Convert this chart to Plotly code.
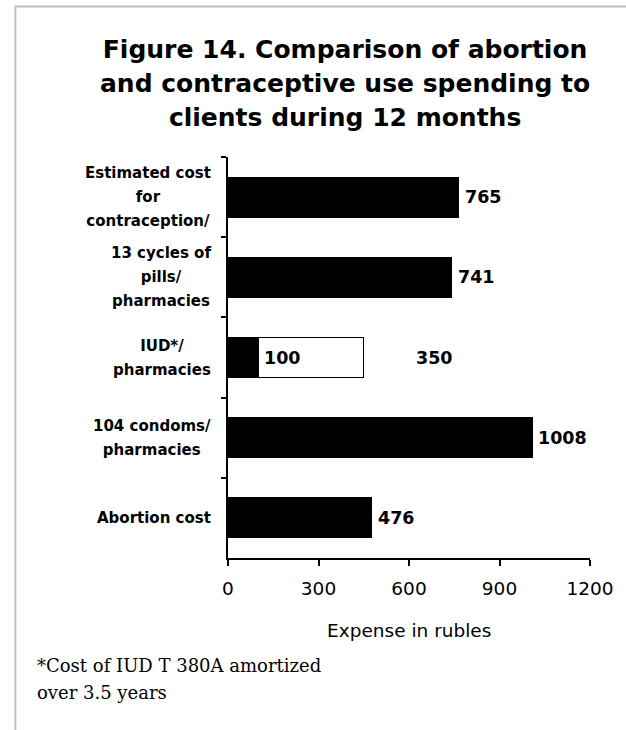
import plotly.graph_objects as go

# ---- data -------------------------------------------------------------
categories = [
    "Estimated cost<br>for<br>contraception/",
    "13 cycles of<br>pills/<br>pharmacies",
    "IUD*/<br>pharmacies",
    "104 condoms/<br>pharmacies",
    "Abortion cost",
]
annual_cost = [765, 741, 100, 1008, 476]          # black bars (rubles / 12 months)
iud_full_cost = [None, None, 350, None, None]     # white segment: full IUD price
x_ticks = [0, 300, 600, 900, 1200]

title_text = ("Figure 14. Comparison of abortion<br>"
              "and contraceptive use spending to<br>"
              "clients during 12 months")
x_title = "Expense in rubles"
footnote = "*Cost of IUD T 380A amortized<br>over 3.5 years"

# ---- geometry ---------------------------------------------------------
W, H = 626, 730
L, R, T, B = 228, 26, 157, 172
PW, PH = W - L - R, H - T - B

SANS = "DejaVu Sans"
SERIF = "DejaVu Serif"


def paper_x(px):
    return (px - L) / PW


def paper_y(py):
    return (H - B - py) / PH


def spaced(text, size, line_gap):
    """Wrap text in a span of `size` px; return (text, outer font size) so
    that consecutive lines sit `line_gap` px apart."""
    return f"<span style='font-size:{size}px'>{text}</span>", line_gap / 1.3


fig = go.Figure()

fig.add_trace(go.Bar(
    y=categories, x=annual_cost, orientation="h", width=0.5,
    marker=dict(color="black", line=dict(color="black", width=1)),
    hoverinfo="x+y",
))
fig.add_trace(go.Bar(
    y=categories, x=iud_full_cost, orientation="h", width=0.5,
    marker=dict(color="white", line=dict(color="black", width=1)),
    hoverinfo="x+y",
))

annotations = []

# value labels
VAL_FONT = dict(family=SANS, size=17.5, color="black", weight="bold")
for cat, val, extra in zip(categories, annual_cost, iud_full_cost):
    annotations.append(dict(
        x=val, y=cat, xref="x", yref="y", text=str(val),
        xanchor="left", yanchor="middle", xshift=4, showarrow=False,
        font=VAL_FONT,
    ))
    if extra is not None:
        annotations.append(dict(
            x=val + extra, y=cat, xref="x", yref="y", text=str(extra),
            xanchor="left", yanchor="middle", xshift=50, showarrow=False,
            font=VAL_FONT,
        ))

# category labels (centred multi-line blocks, right edge near the axis)
for cat in categories:
    txt, fs = spaced(cat, 15, 24)
    annotations.append(dict(
        x=paper_x(213), y=cat, xref="paper", yref="y", text=txt,
        xanchor="right", yanchor="middle", align="center", showarrow=False,
        font=dict(family=SANS, size=fs, color="black", weight="bold"),
    ))

# title
txt, fs = spaced(title_text, 25, 34)
annotations.append(dict(
    x=paper_x(348), y=paper_y(84), xref="paper", yref="paper", text=txt,
    xanchor="center", yanchor="middle", align="center", showarrow=False,
    font=dict(family=SANS, size=fs, color="black", weight="bold"),
))

# axis title
annotations.append(dict(
    x=0.5, y=paper_y(630), xref="paper", yref="paper", text=x_title,
    xanchor="center", yanchor="middle", showarrow=False,
    font=dict(family=SANS, size=18.5, color="black"),
))

# footnote
txt, fs = spaced(footnote, 18, 27)
annotations.append(dict(
    x=paper_x(30), y=paper_y(653), xref="paper", yref="paper", text=txt,
    xanchor="left", yanchor="top", align="left", showarrow=False,
    font=dict(family=SERIF, size=fs, color="black"),
))

fig.update_layout(
    width=W, height=H,
    margin=dict(l=L, r=R, t=T, b=B, pad=0),
    paper_bgcolor="white", plot_bgcolor="white",
    barmode="stack", bargap=0.5,
    showlegend=False,
    annotations=annotations,
    shapes=[dict(
        type="rect", xref="paper", yref="paper",
        x0=paper_x(9.5), y0=paper_y(6.5), x1=paper_x(W + 40), y1=paper_y(H + 40),
        line=dict(color="#c0c0c0", width=2), fillcolor="rgba(0,0,0,0)",
        layer="below",
    )],
    xaxis=dict(
        range=[0, 1200], tickvals=x_ticks, ticktext=[str(v) for v in x_ticks],
        showline=True, linecolor="black", linewidth=1.5,
        ticks="outside", ticklen=6, tickwidth=1.5, tickcolor="black",
        ticklabelstandoff=7,
        showgrid=False, zeroline=False,
        tickfont=dict(family=SANS, size=18.5, color="black"),
        fixedrange=True,
    ),
    yaxis=dict(
        categoryorder="array", categoryarray=categories,
        range=[4.5, -0.5],
        showline=True, linecolor="black", linewidth=1.5,
        ticks="outside", ticklen=5, tickwidth=1.5, tickcolor="black",
        tickson="boundaries", showticklabels=False,
        showgrid=False, zeroline=False, fixedrange=True,
    ),
)

fig.write_html("out.html", config={"displayModeBar": False})
